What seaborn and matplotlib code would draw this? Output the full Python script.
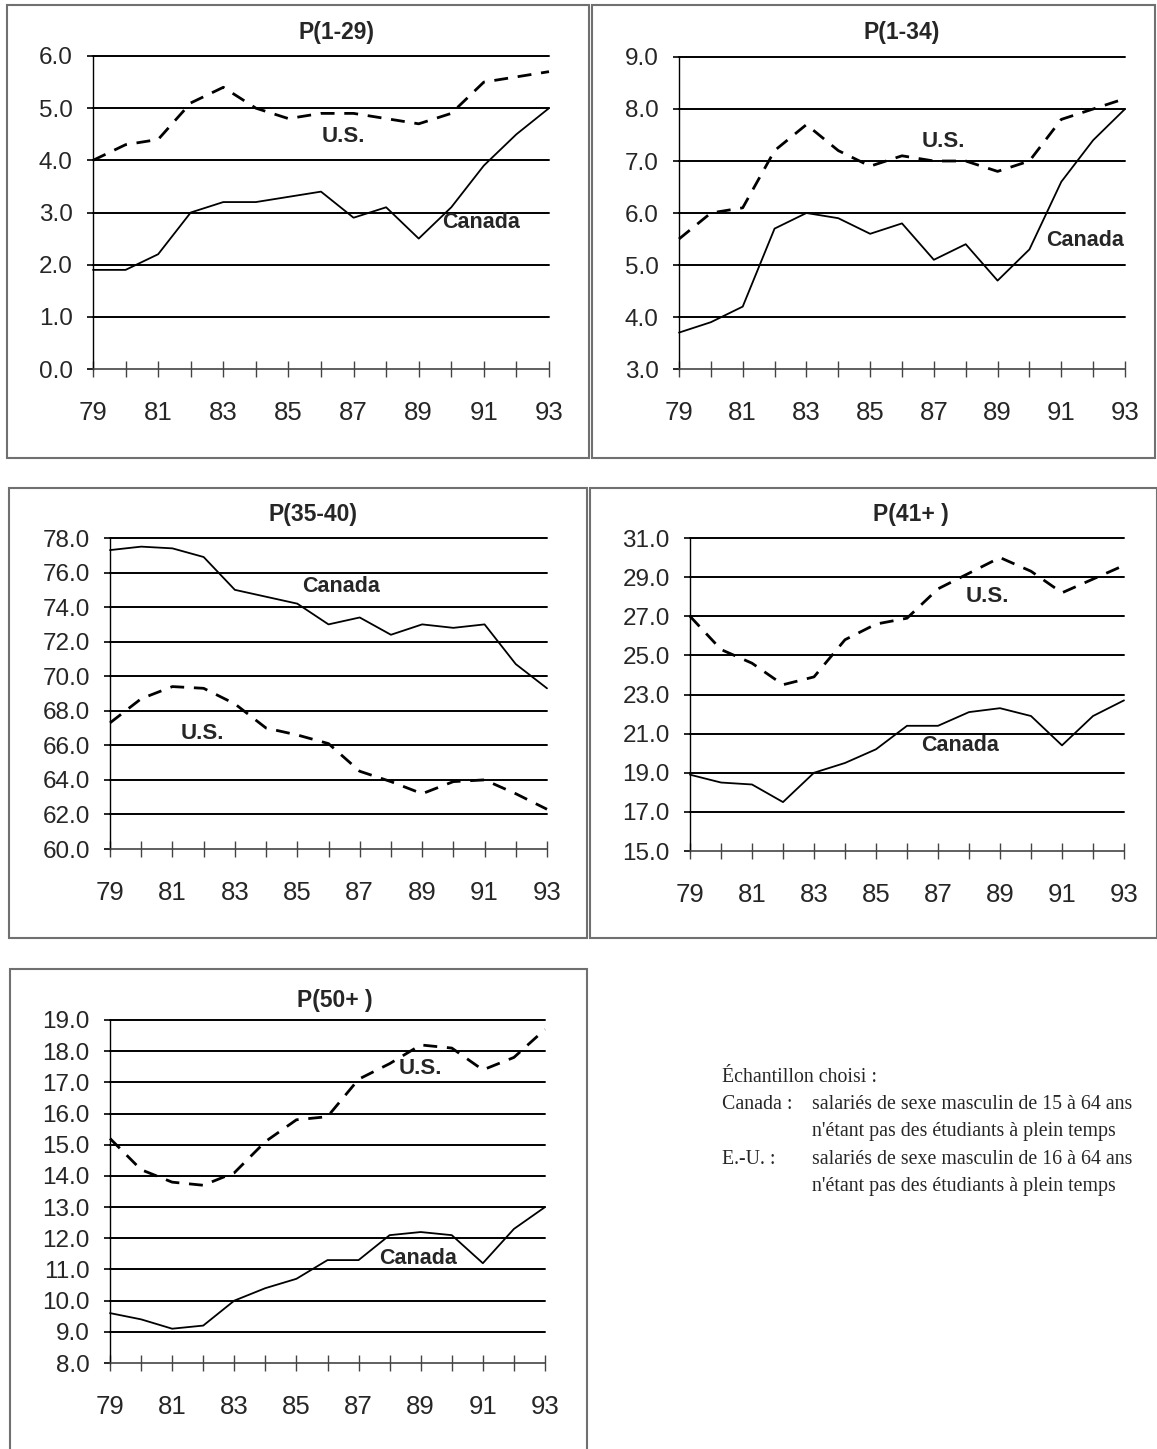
import numpy as np
import pandas as pd
import matplotlib
matplotlib.use('Agg')
import matplotlib.pyplot as plt
from matplotlib.patches import Rectangle
import seaborn as sns

# years on the x axis (two-digit), labels only every second year
years = list(range(79, 94))
year_labels = [str(y) if y % 2 == 1 else '' for y in years]

titles = ['P(1-29)', 'P(1-34)', 'P(35-40)', 'P(41+ )', 'P(50+ )']

canada_129 = [1.9, 1.9, 2.2, 3.0, 3.2, 3.2, 3.3, 3.4, 2.9, 3.1, 2.5, 3.1, 3.9, 4.5, 5.0]
us_129 = [4.0, 4.3, 4.4, 5.1, 5.4, 5.0, 4.8, 4.9, 4.9, 4.8, 4.7, 4.9, 5.5, 5.6, 5.7]

canada_134 = [3.7, 3.9, 4.2, 5.7, 6.0, 5.9, 5.6, 5.8, 5.1, 5.4, 4.7, 5.3, 6.6, 7.4, 8.0]
us_134 = [5.5, 6.0, 6.1, 7.2, 7.7, 7.2, 6.9, 7.1, 7.0, 7.0, 6.8, 7.0, 7.8, 8.0, 8.2]

canada_3540 = [77.3, 77.5, 77.4, 76.9, 75.0, 74.6, 74.2, 73.0, 73.4, 72.4, 73.0, 72.8, 73.0, 70.7, 69.3]
us_3540 = [67.3, 68.7, 69.4, 69.3, 68.4, 67.0, 66.6, 66.1, 64.5, 63.9, 63.2, 63.9, 64.0, 63.2, 62.3]

canada_41 = [18.9, 18.5, 18.4, 17.5, 19.0, 19.5, 20.2, 21.4, 21.4, 22.1, 22.3, 21.9, 20.4, 21.9, 22.7]
us_41 = [27.0, 25.3, 24.6, 23.5, 23.9, 25.8, 26.6, 26.9, 28.4, 29.2, 30.0, 29.3, 28.2, 28.9, 29.6]

canada_50 = [9.6, 9.4, 9.1, 9.2, 10.0, 10.4, 10.7, 11.3, 11.3, 12.1, 12.2, 12.1, 11.2, 12.3, 13.0]
us_50 = [15.2, 14.2, 13.8, 13.7, 14.1, 15.1, 15.8, 15.9, 17.1, 17.6, 18.2, 18.1, 17.4, 17.8, 18.7]

y_ranges = [(0, 6, 1), (3, 9, 1), (60, 78, 2), (15, 31, 2), (8, 19, 1)]

note_lines = [
    ('Échantillon choisi :', ''),
    ('Canada :', 'salariés de sexe masculin de 15 à 64 ans'),
    ('', "n'étant pas des étudiants à plein temps"),
    ('E.-U. :', 'salariés de sexe masculin de 16 à 64 ans'),
    ('', "n'étant pas des étudiants à plein temps"),
]

W, H = 1157, 1449

# layout in pixels: frame (l, t, r, b), axes (l, t, r, b), title centre,
# label positions in data coords (U.S., Canada)
panels = [
    dict(frame=(7, 5, 589, 458), ax=(93, 56, 549, 369), title=(336, 33),
         us_lab=(86.7, 4.45), ca_lab=(90.9, 2.8)),
    dict(frame=(592, 5, 1155, 458), ax=(679, 57, 1125, 369), title=(902, 33),
         us_lab=(87.3, 7.37), ca_lab=(91.75, 5.48)),
    dict(frame=(9, 488, 587, 938), ax=(110, 538, 547, 849), title=(313, 514),
         us_lab=(81.95, 66.7), ca_lab=(86.4, 75.2)),
    dict(frame=(590, 488, 1157, 938), ax=(690, 538, 1124, 851), title=(911, 514),
         us_lab=(88.6, 28.0), ca_lab=(87.7, 20.4)),
    dict(frame=(10, 969, 587, 1460), ax=(110, 1020, 545, 1363), title=(335, 1001),
         us_lab=(89.0, 17.45), ca_lab=(88.9, 11.35)),
]
series = [(canada_129, us_129), (canada_134, us_134), (canada_3540, us_3540),
          (canada_41, us_41), (canada_50, us_50)]

sns.set_style('white')
plt.rcParams['font.family'] = ['Liberation Sans', 'DejaVu Sans']

fig = plt.figure(figsize=(W / 100, H / 100), dpi=100)

for i, p in enumerate(panels):
    fl, ft, fr, fb = p['frame']
    fig.add_artist(Rectangle((fl / W, 1 - fb / H), (fr - fl) / W, (fb - ft) / H,
                             transform=fig.transFigure, fill=False,
                             edgecolor='#707070', linewidth=1.5))
    al, at, ar, ab = p['ax']
    ax = fig.add_axes([al / W, 1 - ab / H, (ar - al) / W, (ab - at) / H])

    ca, us = series[i]
    df = pd.DataFrame({'year': years, 'Canada': ca, 'U.S.': us})
    sns.lineplot(data=df, x='year', y='Canada', ax=ax, color='black',
                 linewidth=1.3, legend=False)
    sns.lineplot(data=df, x='year', y='U.S.', ax=ax, color='black',
                 linewidth=2.0, dashes=False, legend=False)
    ax.lines[-1].set_dashes((5, 3.5))

    lo, hi, step = y_ranges[i]
    ax.set_xlim(79, 93)
    ax.set_ylim(lo, hi)
    yt = np.arange(lo, hi + step / 2, step)
    ax.set_yticks(yt)
    ax.set_yticklabels([f'{v:.1f}' for v in yt], fontsize=17.5)
    ax.set_xticks(years)
    ax.set_xticklabels(year_labels, fontsize=18.5)
    ax.set_xlabel('')
    ax.set_ylabel('')
    for v in yt[1:]:
        ax.axhline(v, color='black', linewidth=1.4, zorder=1)

    for s in ['top', 'right']:
        ax.spines[s].set_visible(False)
    ax.spines['left'].set_color('black')
    ax.spines['left'].set_linewidth(1.0)
    ax.spines['bottom'].set_color('#444444')
    ax.spines['bottom'].set_linewidth(1.2)
    ax.tick_params(axis='y', direction='out', length=4.5, width=1.2,
                   color='black', pad=10, left=True)
    ax.tick_params(axis='x', direction='inout', length=11.5, width=1.0,
                   color='#444444', pad=17, bottom=True)
    ax.patch.set_alpha(0)
    for ln in ax.lines:
        ln.set_clip_on(False)

    ax.text(*p['us_lab'], 'U.S.', ha='center', va='center', fontsize=16,
            fontweight='bold')
    ax.text(*p['ca_lab'], 'Canada', ha='center', va='center', fontsize=15.5,
            fontweight='bold')

    tx, ty = p['title']
    fig.text(tx / W, 1 - ty / H, titles[i], ha='center', va='center',
             fontsize=16.5, fontweight='bold')

# sample note
for j, (left, right) in enumerate(note_lines):
    y = 1077 + j * 27.4
    if left:
        fig.text(722 / W, 1 - y / H, left, ha='left', va='center',
                 fontsize=14.3, family=['Liberation Serif', 'DejaVu Serif'])
    if right:
        fig.text(812 / W, 1 - y / H, right, ha='left', va='center',
                 fontsize=14.3, family=['Liberation Serif', 'DejaVu Serif'])

fig.savefig('out.png', dpi=100, facecolor='white')
